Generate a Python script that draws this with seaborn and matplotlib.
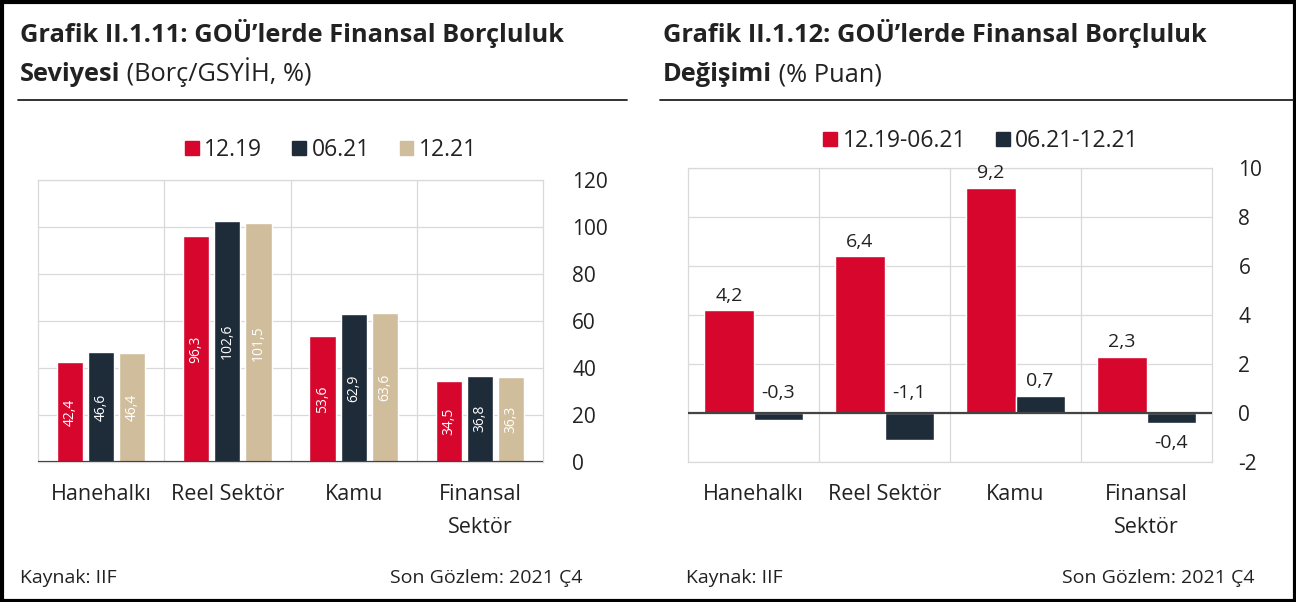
import numpy as np
import pandas as pd
import matplotlib
matplotlib.use("Agg")
import matplotlib.pyplot as plt
import seaborn as sns
from matplotlib.patches import Patch

# data
categories = ["Hanehalkı", "Reel Sektör", "Kamu", "Finansal\nSektör"]

level_periods = ["12.19", "06.21", "12.21"]
level_1219 = [42.4, 96.3, 53.6, 34.5]
level_0621 = [46.6, 102.6, 62.9, 36.8]
level_1221 = [46.4, 101.5, 63.6, 36.3]

change_periods = ["12.19-06.21", "06.21-12.21"]
change_a = [4.2, 6.4, 9.2, 2.3]
change_b = [-0.3, -1.1, 0.7, -0.4]

RED = "#d7062c"
NAVY = "#1e2b39"
TAN = "#d0bd9c"
GRID = "#d9d9d9"
TXT = "#222222"

sns.set_theme(style="white")
plt.rcParams["font.family"] = ["Open Sans", "DejaVu Sans"]
plt.rcParams["axes.unicode_minus"] = False

df_level = pd.DataFrame({
    "kategori": categories * 3,
    "donem": [p for p in level_periods for _ in categories],
    "deger": level_1219 + level_0621 + level_1221,
})
df_change = pd.DataFrame({
    "kategori": categories * 2,
    "donem": [p for p in change_periods for _ in categories],
    "deger": change_a + change_b,
})

fig = plt.figure(figsize=(12.96, 6.02), dpi=100)

# background axes for titles, rules, footer
bg = fig.add_axes([0, 0, 1, 1])
bg.set_xlim(0, 1296)
bg.set_ylim(602, 0)
bg.axis("off")


def style_axes(ax, ylim, yticks, ypad):
    ax.set_ylim(*ylim)
    ax.set_xlim(-0.5, 3.5)
    ax.set_yticks(yticks)
    ax.yaxis.tick_right()
    ax.set_xlabel("")
    ax.set_ylabel("")
    ax.grid(axis="y", color=GRID, lw=0.9)
    ax.set_xticks([0.5, 1.5, 2.5], minor=True)
    ax.grid(axis="x", which="minor", color=GRID, lw=0.9)
    ax.set_axisbelow(True)
    for s in ax.spines.values():
        s.set_color(GRID)
        s.set_linewidth(0.9)
    ax.axhline(0, color="#444444", lw=1.6, zorder=3)
    ax.tick_params(axis="x", which="both", length=0, labelsize=15.5, colors=TXT, pad=16)
    ax.tick_params(axis="y", which="both", length=0, labelsize=15, colors=TXT, pad=ypad)
    for lab in ax.get_xticklabels():
        lab.set_linespacing(1.75)
    for t in ax.yaxis.get_major_ticks():
        t.label2.set_horizontalalignment("left")


# left chart
ax1 = fig.add_axes([38 / 1296, 1 - 462 / 602, 505 / 1296, 282 / 602])
sns.barplot(data=df_level, x="kategori", y="deger", hue="donem",
            palette=[RED, NAVY, TAN], width=0.74, gap=0.16, ax=ax1,
            saturation=1, legend=False)
style_axes(ax1, (0, 120), range(0, 121, 20), 21)
for cont in ax1.containers:
    ax1.bar_label(cont, labels=[f"{v:.1f}".replace(".", ",") for v in cont.datavalues],
                  label_type="center", rotation=90, color="white", fontsize=10)

# right chart
ax2 = fig.add_axes([688 / 1296, 1 - 462 / 602, 524 / 1296, 294 / 602])
sns.barplot(data=df_change, x="kategori", y="deger", hue="donem",
            palette=[RED, NAVY], width=0.75, ax=ax2, saturation=1, legend=False)
style_axes(ax2, (-2, 10), range(-2, 11, 2), 19)
# label placement: positives above bar, negatives mostly above zero line
neg_above = [True, True, None, False]
for ci, cont in enumerate(ax2.containers):
    for i, (bar, v) in enumerate(zip(cont.patches, cont.datavalues)):
        x = bar.get_x() + bar.get_width() / 2
        txt = f"{v:.1f}".replace(".", ",")
        if v >= 0:
            ax2.annotate(txt, (x, v), xytext=(0, 4), textcoords="offset points",
                         ha="center", va="bottom", fontsize=14, color=TXT)
        elif neg_above[i]:
            ax2.annotate(txt, (x, 0), xytext=(0, 8), textcoords="offset points",
                         ha="center", va="bottom", fontsize=14, color=TXT)
        else:
            ax2.annotate(txt, (x, v), xytext=(0, -8), textcoords="offset points",
                         ha="center", va="top", fontsize=14, color=TXT)

# legends
h1 = [Patch(color=c) for c in [RED, NAVY, TAN]]
fig.legend(h1, level_periods, loc="center", bbox_to_anchor=(331 / 1296, 1 - 150 / 602),
           ncol=3, frameon=False, fontsize=16.5, handlelength=0.6, handleheight=0.6,
           handletextpad=0.25, columnspacing=1.3, labelcolor=TXT)
h2 = [Patch(color=c) for c in [RED, NAVY]]
fig.legend(h2, change_periods, loc="center", bbox_to_anchor=(981 / 1296, 1 - 141 / 602),
           ncol=2, frameon=False, fontsize=16.5, handlelength=0.6, handleheight=0.6,
           handletextpad=0.25, columnspacing=1.3, labelcolor=TXT)

# titles
renderer = fig.canvas.get_renderer()


def title(x, line1, bold2, rest2):
    bg.text(x, 42, line1, fontsize=18.3, fontweight="bold", color=TXT, va="baseline")
    t = bg.text(x, 81, bold2, fontsize=18.3, fontweight="bold", color=TXT, va="baseline")
    bb = t.get_window_extent(renderer)
    bg.text(x + bb.width, 81, " " + rest2, fontsize=18.3, color=TXT, va="baseline")


title(20, "Grafik II.1.11: GOÜ’lerde Finansal Borçluluk", "Seviyesi", "(Borç/GSYİH, %)")
title(663, "Grafik II.1.12: GOÜ’lerde Finansal Borçluluk", "Değişimi", "(% Puan)")

bg.plot([18, 627], [100, 100], color="#222222", lw=1.3)
bg.plot([660, 1293], [100, 100], color="#222222", lw=1.3)

# footer
for x0, x1 in [(20, 583), (686, 1255)]:
    bg.text(x0, 578, "Kaynak: IIF", fontsize=14, color=TXT, va="center")
    bg.text(x1, 578, "Son Gözlem: 2021 Ç4", fontsize=14, color=TXT, va="center", ha="right")

# outer frame
bg.add_patch(plt.Rectangle((1.5, 1.5), 1293, 599, fill=False, ec="black", lw=3))

fig.savefig("out.png", dpi=100)
